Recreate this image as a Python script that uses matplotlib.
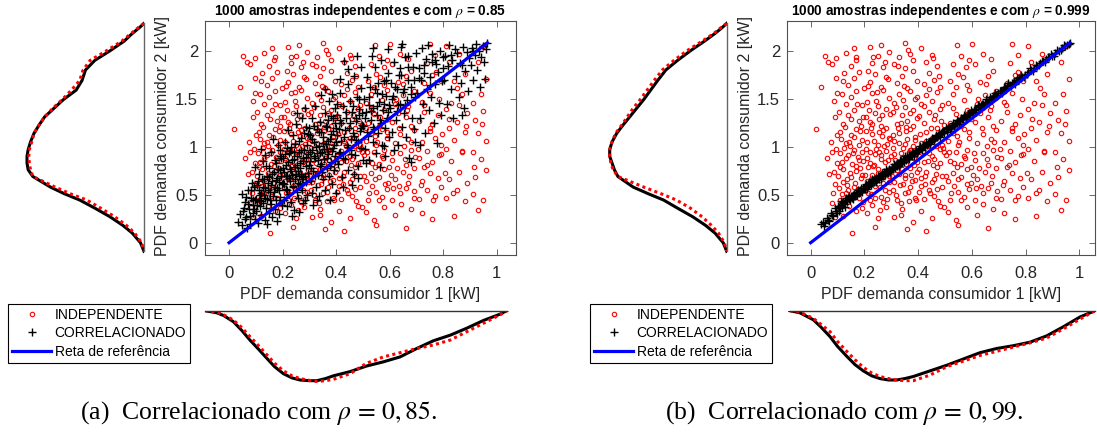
import numpy as np
import matplotlib.pyplot as plt

plt.rcParams['font.family'] = ['Liberation Sans', 'DejaVu Sans']
plt.rcParams['mathtext.fontset'] = 'stix'

W, H = 1097, 433

# --- amostras independentes (mesmas nos dois paineis) ---
indep_pts = [
    (0.02,1.18),(0.04,1.62),(0.053,1.95),(0.07,0.72),(0.08,0.95),(0.09,1.31),(0.085,0.52),(0.095,1.72),
    (0.06,0.88),(0.075,1.05),(0.092,0.61),(0.088,1.48),(0.097,0.83),(0.066,1.88),(0.099,1.12),(0.081,0.41),
    (0.094,0.98),(0.078,1.86),(0.091,0.27),(0.098,1.56),(0.087,0.74),(0.096,1.92),
    (0.152,0.10),(0.12,0.28),(0.17,0.33),(0.19,0.36),
    (0.11,0.45),(0.13,0.52),(0.16,0.58),(0.18,0.47),(0.14,0.55),(0.195,0.42),(0.105,0.57),
    (0.12,0.63),(0.15,0.68),(0.17,0.75),(0.19,0.71),(0.11,0.79),(0.135,0.66),(0.165,0.62),(0.185,0.78),
    (0.115,0.84),(0.14,0.91),(0.16,0.97),(0.18,0.86),(0.125,0.99),(0.155,0.82),(0.19,0.94),(0.175,0.89),
    (0.13,1.04),(0.15,1.12),(0.17,1.18),(0.19,1.07),(0.11,1.15),(0.145,1.01),(0.185,1.16),
    (0.12,1.24),(0.14,1.33),(0.16,1.38),(0.18,1.27),(0.105,1.36),(0.195,1.31),
    (0.13,1.45),(0.15,1.52),(0.17,1.58),(0.19,1.43),(0.115,1.55),
    (0.14,1.64),(0.16,1.72),(0.18,1.78),(0.12,1.69),
    (0.15,1.84),(0.17,1.93),(0.13,1.98),(0.16,2.03),
    (0.24,0.16),(0.21,0.31),(0.25,0.26),(0.28,0.37),(0.23,0.39),
    (0.22,0.44),(0.26,0.48),(0.29,0.53),(0.205,0.57),(0.24,0.59),(0.27,0.42),(0.225,0.51),(0.285,0.46),
    (0.21,0.64),(0.23,0.71),(0.25,0.77),(0.27,0.62),(0.29,0.69),(0.215,0.79),(0.245,0.66),(0.265,0.73),(0.295,0.76),
    (0.22,0.83),(0.24,0.92),(0.26,0.87),(0.28,0.96),(0.205,0.98),(0.235,0.81),(0.255,0.94),(0.275,0.84),(0.298,0.90),
    (0.21,1.05),(0.23,1.13),(0.25,1.02),(0.27,1.17),(0.29,1.09),(0.225,1.19),(0.265,1.11),(0.285,1.03),
    (0.22,1.26),(0.24,1.35),(0.26,1.22),(0.28,1.39),(0.205,1.31),(0.255,1.29),(0.295,1.34),
    (0.21,1.47),(0.23,1.56),(0.25,1.42),(0.27,1.59),(0.29,1.51),(0.245,1.48),
    (0.22,1.67),(0.24,1.76),(0.26,1.62),(0.28,1.73),(0.215,1.79),
    (0.23,1.87),(0.25,1.95),(0.27,1.83),(0.29,1.99),(0.26,2.06),(0.22,2.04),
    (0.36,0.14),(0.31,0.27),(0.34,0.35),(0.38,0.22),
    (0.32,0.45),(0.35,0.52),(0.37,0.58),(0.39,0.47),(0.305,0.55),(0.335,0.41),(0.365,0.43),
    (0.31,0.63),(0.33,0.72),(0.35,0.67),(0.37,0.78),(0.39,0.65),(0.32,0.76),(0.345,0.61),(0.375,0.71),(0.395,0.74),
    (0.315,0.86),(0.335,0.93),(0.355,0.82),(0.375,0.97),(0.385,0.88),(0.305,0.99),(0.345,0.89),(0.365,0.95),(0.395,0.84),
    (0.31,1.06),(0.33,1.14),(0.35,1.03),(0.37,1.18),(0.39,1.10),(0.325,1.19),(0.36,1.08),(0.38,1.01),
    (0.32,1.24),(0.34,1.33),(0.36,1.27),(0.38,1.38),(0.305,1.36),(0.355,1.21),(0.395,1.30),
    (0.31,1.46),(0.33,1.55),(0.35,1.41),(0.37,1.58),(0.39,1.50),(0.345,1.49),
    (0.32,1.66),(0.34,1.74),(0.36,1.61),(0.38,1.79),(0.395,1.69),
    (0.31,1.86),(0.33,1.94),(0.35,1.82),(0.37,1.97),(0.35,2.08),
    (0.43,0.12),(0.41,0.33),(0.45,0.26),(0.48,0.38),
    (0.42,0.46),(0.44,0.55),(0.46,0.49),(0.49,0.58),(0.405,0.53),(0.475,0.43),
    (0.41,0.67),(0.43,0.74),(0.45,0.63),(0.47,0.79),(0.49,0.69),(0.425,0.61),(0.465,0.72),
    (0.42,0.84),(0.44,0.93),(0.46,0.87),(0.48,0.98),(0.405,0.90),(0.455,0.81),(0.495,0.95),
    (0.41,1.04),(0.43,1.15),(0.45,1.09),(0.47,1.19),(0.49,1.02),(0.435,1.01),(0.475,1.12),
    (0.42,1.25),(0.44,1.36),(0.46,1.29),(0.48,1.39),(0.405,1.32),(0.495,1.23),
    (0.41,1.45),(0.43,1.54),(0.45,1.48),(0.47,1.57),(0.49,1.43),
    (0.42,1.65),(0.44,1.77),(0.46,1.70),(0.48,1.62),
    (0.43,1.88),(0.45,1.96),(0.47,1.84),(0.41,2.03),
    (0.55,0.18),(0.51,0.32),(0.54,0.24),(0.58,0.37),
    (0.52,0.45),(0.55,0.53),(0.57,0.48),(0.59,0.56),(0.535,0.59),
    (0.51,0.64),(0.53,0.73),(0.56,0.68),(0.58,0.77),(0.595,0.62),(0.545,0.79),
    (0.52,0.85),(0.54,0.94),(0.56,0.82),(0.58,0.97),(0.505,0.91),(0.575,0.88),
    (0.51,1.06),(0.53,1.14),(0.55,1.02),(0.57,1.18),(0.59,1.09),(0.545,1.11),
    (0.52,1.25),(0.54,1.34),(0.56,1.22),(0.58,1.38),(0.595,1.29),
    (0.51,1.46),(0.53,1.55),(0.57,1.49),(0.59,1.59),
    (0.52,1.68),(0.55,1.76),(0.58,1.64),(0.565,1.73),
    (0.53,1.86),(0.56,1.95),(0.59,1.90),(0.545,2.06),
    (0.66,0.15),(0.62,0.29),(0.68,0.35),
    (0.61,0.44),(0.64,0.52),(0.66,0.57),(0.69,0.47),(0.635,0.59),
    (0.62,0.66),(0.65,0.74),(0.67,0.62),(0.69,0.78),(0.605,0.71),
    (0.61,0.86),(0.64,0.93),(0.66,0.81),(0.68,0.97),(0.695,0.89),
    (0.62,1.04),(0.64,1.13),(0.67,1.08),(0.69,1.17),(0.655,1.01),
    (0.61,1.26),(0.63,1.35),(0.66,1.31),(0.68,1.22),
    (0.62,1.45),(0.65,1.54),(0.67,1.42),(0.69,1.58),
    (0.63,1.67),(0.66,1.74),(0.68,1.79),
    (0.61,1.86),(0.64,1.97),(0.67,1.91),(0.60,2.07),
    (0.72,0.31),(0.76,0.25),
    (0.71,0.46),(0.74,0.55),(0.77,0.49),(0.79,0.58),
    (0.72,0.64),(0.75,0.73),(0.78,0.67),(0.73,0.79),
    (0.71,0.88),(0.74,0.96),(0.76,0.84),(0.79,0.92),
    (0.72,1.05),(0.75,1.16),(0.77,1.09),(0.79,1.02),
    (0.71,1.27),(0.73,1.36),(0.76,1.24),(0.78,1.33),
    (0.72,1.47),(0.75,1.56),(0.785,1.50),
    (0.73,1.66),(0.76,1.75),(0.79,1.69),
    (0.74,1.87),(0.77,1.96),(0.75,2.07),
    (0.84,0.28),(0.81,0.47),(0.85,0.55),(0.88,0.43),
    (0.82,0.66),(0.86,0.74),(0.89,0.62),
    (0.83,0.85),(0.87,0.94),(0.81,0.98),
    (0.84,1.07),(0.88,1.15),(0.82,1.19),
    (0.85,1.26),(0.89,1.35),(0.81,1.39),
    (0.83,1.46),(0.87,1.55),(0.86,1.44),
    (0.84,1.68),(0.88,1.76),(0.82,1.88),(0.86,1.97),(0.81,2.05),
    (0.93,0.34),(0.91,0.51),(0.95,0.45),(0.92,0.68),(0.96,0.76),
    (0.94,0.87),(0.91,0.95),(0.96,1.06),(0.93,1.14),(0.92,1.28),(0.95,1.37),
    (0.94,1.55),(0.91,1.46),(0.96,1.71),(0.93,1.88),(0.95,2.05),
    # mais pontos nas regioes densas
    (0.103,0.69),(0.108,0.93),(0.114,1.08),(0.118,0.51),(0.122,0.77),(0.127,1.21),(0.131,0.88),(0.137,0.60),
    (0.142,1.05),(0.146,0.73),(0.151,1.29),(0.156,0.93),(0.158,0.49),(0.163,1.10),(0.168,0.80),(0.173,1.45),
    (0.176,0.56),(0.181,1.02),(0.186,0.67),(0.189,1.22),(0.193,0.85),(0.197,1.61),(0.124,1.77),(0.167,1.90),
    (0.144,0.38),
    (0.202,0.71),(0.206,1.16),(0.209,0.88),(0.213,0.52),(0.217,1.38),(0.221,0.95),(0.226,0.66),(0.229,1.24),
    (0.233,0.80),(0.237,1.06),(0.241,0.47),(0.244,0.98),(0.248,1.57),(0.252,0.73),(0.256,1.15),(0.259,0.58),
    (0.263,0.91),(0.267,1.33),(0.271,0.69),(0.274,1.01),(0.278,0.55),(0.282,1.20),(0.286,0.86),(0.289,1.71),
    (0.293,0.63),(0.297,1.08),(0.231,1.93),(0.258,0.34),(0.276,1.88),(0.212,1.63),
    (0.303,0.69),(0.307,1.12),(0.311,0.92),(0.316,0.50),(0.319,1.41),(0.323,0.83),(0.328,1.04),(0.331,0.60),
    (0.336,1.25),(0.34,0.77),(0.343,0.99),(0.348,1.63),(0.352,0.71),(0.356,1.16),(0.359,0.88),(0.364,0.53),
    (0.368,1.35),(0.371,0.97),(0.376,0.64),(0.379,1.22),(0.384,0.81),(0.388,1.07),(0.391,0.44),(0.396,1.52),
    (0.326,1.84),(0.361,2.01),(0.381,1.90),(0.338,0.29),
    (0.403,0.77),(0.408,1.13),(0.412,0.59),(0.417,0.96),(0.421,1.42),(0.426,0.70),(0.431,1.06),(0.436,0.85),
    (0.44,1.60),(0.444,0.52),(0.449,1.19),(0.453,0.90),(0.458,0.66),(0.462,1.33),(0.467,1.01),(0.471,0.56),
    (0.476,1.74),(0.481,0.83),(0.486,1.27),(0.491,0.99),(0.496,0.37),(0.457,1.92),
    (0.504,0.70),(0.51,1.20),(0.516,0.94),(0.523,0.52),(0.529,1.40),(0.535,0.83),(0.541,1.62),(0.547,0.66),
    (0.553,1.05),(0.559,0.45),(0.565,1.31),(0.571,0.90),(0.577,1.83),(0.583,0.61),(0.589,1.15),(0.597,0.79),
    (0.607,0.93),(0.614,0.57),(0.622,1.50),(0.628,0.78),(0.636,1.19),(0.643,0.40),(0.651,1.65),(0.658,0.87),
    (0.666,1.38),(0.673,0.69),(0.681,1.05),(0.692,0.54),
    (0.705,0.98),(0.716,0.60),(0.727,1.43),(0.738,0.81),(0.749,1.20),(0.761,0.44),(0.772,1.78),(0.783,0.91),
    (0.795,1.13),(0.806,0.73),(0.822,1.29),(0.838,0.52),(0.853,1.61),(0.869,0.96),(0.885,1.22),(0.915,0.79),
    (0.945,1.24),
]

# --- amostras correlacionadas, rho = 0.85 ---
corr85_pts = [
    (0.035,0.22),(0.047,0.51),(0.04,0.30),(0.05,0.18),(0.06,0.42),(0.065,0.27),(0.07,0.55),(0.075,0.35),
    (0.08,0.20),(0.082,0.47),(0.085,0.62),(0.088,0.31),(0.09,0.39),(0.092,0.58),(0.095,0.25),(0.097,0.79),
    (0.098,0.44),(0.055,0.36),(0.068,0.15),
    (0.102,0.33),(0.105,0.60),(0.108,0.21),(0.11,0.45),(0.113,0.72),(0.115,0.38),(0.118,0.52),(0.12,0.29),
    (0.123,0.66),(0.125,0.41),(0.128,0.85),(0.13,0.50),(0.133,0.24),(0.134,0.91),(0.136,0.57),(0.138,0.36),
    (0.14,0.70),(0.143,0.46),(0.145,0.62),(0.148,0.31),(0.15,0.78),(0.152,0.53),(0.155,0.40),(0.157,0.95),
    (0.16,0.64),(0.162,0.27),(0.165,0.49),(0.167,0.74),(0.17,0.58),(0.172,0.35),(0.175,0.83),(0.177,0.44),
    (0.18,0.67),(0.182,1.02),(0.185,0.55),(0.187,0.30),(0.19,0.76),(0.192,0.48),(0.194,0.88),(0.196,0.61),
    (0.198,0.39),(0.119,0.98),(0.141,0.19),(0.163,1.08),(0.179,0.23),(0.189,0.97),(0.111,0.55),
    (0.201,0.62),(0.203,0.88),(0.205,0.45),(0.207,0.74),(0.21,1.05),(0.212,0.56),(0.214,0.81),(0.216,0.38),
    (0.218,0.69),(0.22,1.17),(0.222,0.93),(0.224,0.51),(0.226,0.77),(0.228,0.64),(0.23,1.00),(0.232,0.42),
    (0.234,0.86),(0.236,0.71),(0.238,1.12),(0.24,0.58),(0.242,0.95),(0.244,0.34),(0.246,0.79),(0.248,0.66),
    (0.25,1.24),(0.252,0.53),(0.254,0.90),(0.256,0.75),(0.258,0.47),(0.26,1.06),(0.262,0.32),(0.264,0.83),
    (0.266,0.61),(0.268,0.97),(0.27,0.72),(0.272,1.30),(0.274,0.55),(0.276,0.88),(0.278,0.68),(0.28,1.14),
    (0.282,0.44),(0.284,1.40),(0.286,0.80),(0.288,0.63),(0.29,1.02),(0.292,0.50),(0.294,0.92),(0.296,0.73),
    (0.298,1.19),(0.215,0.99),(0.235,0.28),(0.255,1.35),(0.275,0.41),(0.287,1.21),(0.263,0.70),
    (0.301,0.85),(0.303,1.12),(0.305,0.64),(0.308,0.97),(0.31,1.30),(0.312,0.75),(0.315,0.39),(0.317,1.05),
    (0.32,0.88),(0.322,1.42),(0.325,0.58),(0.327,0.93),(0.33,1.18),(0.332,0.71),(0.335,1.01),(0.337,0.49),
    (0.34,1.26),(0.342,0.82),(0.345,1.54),(0.347,0.95),(0.35,0.66),(0.352,1.10),(0.355,0.87),(0.357,1.35),
    (0.36,0.55),(0.362,1.03),(0.365,0.78),(0.367,1.21),(0.37,0.92),(0.372,1.48),(0.375,0.69),(0.377,1.08),
    (0.38,0.84),(0.382,1.32),(0.385,0.61),(0.387,0.99),(0.39,1.16),(0.392,0.76),(0.395,1.40),(0.397,0.90),
    (0.398,0.52),(0.318,1.22),(0.338,0.80),(0.358,1.60),(0.378,0.45),(0.396,1.25),(0.309,0.52),(0.344,1.15),
    (0.364,0.98),(0.384,1.55),(0.329,0.44),(0.369,1.28),
    (0.401,1.05),(0.404,1.33),(0.407,0.82),(0.41,1.18),(0.413,1.56),(0.416,0.94),(0.419,1.25),(0.422,0.68),
    (0.425,1.42),(0.428,1.10),(0.431,1.89),(0.434,0.87),(0.437,1.30),(0.44,1.02),(0.443,1.65),(0.446,0.76),
    (0.449,1.20),(0.452,1.48),(0.455,0.97),(0.458,1.36),(0.461,0.60),(0.464,1.14),(0.467,1.74),(0.47,0.91),
    (0.473,1.27),(0.476,1.07),(0.479,1.52),(0.482,0.80),(0.483,0.67),(0.485,1.39),(0.488,1.16),(0.491,0.99),
    (0.494,1.61),(0.497,1.23),(0.499,0.86),(0.415,1.71),(0.427,0.58),(0.445,1.81),(0.457,1.08),(0.468,0.72),
    (0.478,1.95),(0.487,1.33),(0.493,1.83),(0.405,1.45),
    (0.502,1.22),(0.505,1.50),(0.509,0.98),(0.512,1.36),(0.515,1.73),(0.518,1.11),(0.521,1.44),(0.524,0.86),
    (0.527,1.62),(0.53,1.28),(0.533,1.95),(0.536,1.05),(0.539,1.40),(0.542,1.18),(0.545,1.83),(0.548,0.93),
    (0.551,1.33),(0.554,1.56),(0.557,1.14),(0.56,1.47),(0.563,0.79),(0.566,1.25),(0.569,1.90),(0.572,1.02),
    (0.575,1.38),(0.578,1.68),(0.581,1.20),(0.584,0.90),(0.587,1.53),(0.59,1.30),(0.593,2.02),(0.596,1.10),
    (0.599,1.44),(0.513,0.83),(0.537,2.03),(0.558,1.66),(0.579,1.01),(0.595,1.77),
    (0.602,1.40),(0.606,1.66),(0.61,1.15),(0.614,1.53),(0.618,1.88),(0.622,1.28),(0.626,1.60),(0.63,1.02),
    (0.634,1.75),(0.638,1.45),(0.642,2.04),(0.646,1.21),(0.65,1.57),(0.654,1.35),(0.658,1.93),(0.662,1.10),
    (0.666,1.49),(0.67,1.70),(0.674,0.88),(0.678,1.62),(0.682,1.30),(0.686,1.83),(0.69,1.18),(0.694,1.52),
    (0.698,1.98),(0.695,1.05),(0.615,0.97),(0.639,1.82),(0.659,1.44),(0.68,0.84),(0.645,2.07),(0.628,1.37),
    (0.668,1.95),
    (0.703,1.56),(0.708,1.82),(0.712,1.30),(0.716,1.70),(0.72,2.03),(0.724,1.45),(0.728,1.77),(0.732,1.14),
    (0.736,1.91),(0.74,1.60),(0.744,2.06),(0.748,1.38),(0.752,1.73),(0.756,1.52),(0.76,1.97),(0.764,1.25),
    (0.768,1.65),(0.772,1.86),(0.776,1.04),(0.78,1.78),(0.784,1.46),(0.788,2.00),(0.792,1.33),(0.796,1.69),
    (0.799,1.93),(0.715,1.02),(0.758,1.88),
    (0.803,1.70),(0.808,1.95),(0.813,1.45),(0.818,1.84),(0.823,2.06),(0.828,1.60),(0.833,1.90),(0.838,1.30),
    (0.843,2.02),(0.848,1.74),(0.853,1.98),(0.858,1.52),(0.863,1.87),(0.868,1.66),(0.87,1.33),(0.873,2.04),
    (0.878,1.40),(0.883,1.79),(0.888,1.99),(0.893,1.58),(0.898,1.92),
    (0.903,1.85),(0.908,2.03),(0.913,1.70),(0.918,1.96),(0.923,2.07),(0.928,1.80),(0.933,2.00),(0.938,1.62),
    (0.943,1.93),(0.948,2.05),(0.953,1.88),(0.956,1.71),(0.96,2.02),(0.965,2.08),
    # nucleo mais denso perto da diagonal
    (0.052,0.33),(0.058,0.25),(0.063,0.48),(0.072,0.40),(0.078,0.28),(0.083,0.55),(0.089,0.45),(0.094,0.35),
    (0.101,0.46),(0.106,0.39),(0.109,0.64),(0.114,0.50),(0.121,0.43),(0.126,0.58),(0.131,0.66),(0.135,0.47),
    (0.139,0.80),(0.144,0.55),(0.149,0.68),(0.153,0.44),(0.158,0.60),(0.161,0.72),(0.166,0.53),(0.171,0.86),
    (0.174,0.65),(0.178,0.57),(0.183,0.77),(0.186,0.63),(0.191,0.90),(0.195,0.70),
    (0.202,0.78),(0.206,0.61),(0.209,0.92),(0.213,0.70),(0.217,0.55),(0.221,0.84),(0.225,0.67),(0.229,0.96),
    (0.233,0.75),(0.237,0.59),(0.241,0.87),(0.245,1.03),(0.249,0.72),(0.253,0.81),(0.257,0.62),(0.261,0.94),
    (0.265,0.78),(0.269,1.09),(0.273,0.66),(0.277,0.85),(0.281,0.97),(0.285,0.70),(0.289,0.89),(0.293,1.13),
    (0.297,0.81),
    (0.302,0.95),(0.307,0.78),(0.311,1.08),(0.316,0.90),(0.321,0.69),(0.326,1.00),(0.331,0.86),(0.336,1.15),
    (0.341,0.93),(0.346,0.74),(0.351,1.04),(0.356,0.98),(0.361,1.22),(0.366,0.88),(0.371,1.06),(0.376,0.80),
    (0.381,1.13),(0.386,0.96),(0.389,1.30),(0.393,1.02),(0.396,0.85),(0.399,1.19),
    (0.403,1.12),(0.409,0.93),(0.414,1.28),(0.42,1.06),(0.426,0.88),(0.432,1.17),(0.438,1.36),(0.444,1.00),
    (0.45,1.25),(0.456,0.92),(0.462,1.42),(0.468,1.11),(0.474,1.30),(0.48,1.05),(0.486,1.50),(0.492,1.20),
    (0.498,1.35),
    (0.506,1.30),(0.514,1.15),(0.522,1.52),(0.53,1.37),(0.538,1.21),(0.546,1.60),(0.554,1.42),(0.562,1.28),
    (0.57,1.55),(0.578,1.45),(0.586,1.70),(0.594,1.36),
    (0.607,1.50),(0.619,1.62),(0.631,1.44),(0.643,1.75),(0.655,1.60),(0.667,1.83),(0.679,1.55),(0.691,1.70),
    (0.71,1.72),(0.73,1.85),(0.75,1.64),(0.77,1.90),(0.80,1.82),(0.83,1.96),(0.87,1.85),(0.91,2.00),
]

# --- amostras correlacionadas, rho = 0.999 ---
corr999_pts = [
    (0.04,0.19),(0.05,0.17),(0.06,0.26),(0.07,0.23),(0.075,0.31),(0.085,0.28),(0.09,0.36),(0.097,0.31),
    (0.102,0.38),(0.107,0.33),(0.112,0.43),(0.117,0.37),(0.122,0.42),(0.127,0.37),(0.132,0.47),
    (0.137,0.44),(0.142,0.49),(0.147,0.45),(0.152,0.49),(0.157,0.46),(0.162,0.51),(0.167,0.51),(0.172,0.50),
    (0.177,0.55),(0.182,0.53),(0.187,0.57),(0.192,0.53),(0.197,0.57),
    (0.202,0.56),(0.206,0.61),(0.21,0.56),(0.214,0.61),(0.218,0.60),(0.222,0.635),(0.226,0.60),(0.23,0.66),
    (0.234,0.628),(0.238,0.661),(0.242,0.629),(0.246,0.667),(0.25,0.695),(0.254,0.663),(0.258,0.696),
    (0.262,0.664),(0.266,0.722),(0.27,0.705),(0.274,0.733),(0.278,0.705),(0.282,0.763),(0.286,0.731),
    (0.29,0.754),(0.294,0.732),
    (0.302,0.793),(0.306,0.766),(0.311,0.821),(0.315,0.774),(0.32,0.814),(0.324,0.832),(0.329,0.796),
    (0.333,0.859),(0.338,0.834),(0.342,0.862),(0.347,0.842),(0.351,0.90),(0.356,0.875),(0.36,0.908),
    (0.365,0.873),(0.369,0.916),(0.374,0.901),(0.378,0.948),(0.383,0.903),(0.387,0.946),(0.392,0.966),
    (0.397,0.941),
    (0.402,0.961),(0.407,1.006),(0.413,0.968),(0.418,1.018),(0.423,1.008),(0.428,1.052),(0.434,1.014),
    (0.439,1.054),(0.444,1.024),(0.45,1.086),(0.455,1.076),(0.46,1.071),(0.465,1.121),(0.471,1.098),
    (0.476,1.147),(0.481,1.102),(0.487,1.144),(0.492,1.164),(0.497,1.139),
    (0.503,1.191),(0.509,1.158),(0.515,1.205),(0.521,1.197),(0.528,1.25),(0.534,1.212),(0.54,1.249),
    (0.546,1.281),(0.553,1.24),(0.559,1.297),(0.565,1.289),(0.571,1.326),(0.578,1.294),(0.584,1.341),
    (0.59,1.328),(0.596,1.385),
    (0.603,1.349),(0.61,1.398),(0.617,1.367),(0.624,1.435),(0.631,1.419),(0.638,1.448),(0.645,1.427),
    (0.652,1.496),(0.659,1.47),(0.666,1.514),(0.673,1.493),(0.68,1.526),(0.687,1.56),(0.694,1.529),
    (0.704,1.584),(0.712,1.56),(0.72,1.626),(0.728,1.606),(0.736,1.662),(0.744,1.628),(0.752,1.669),
    (0.76,1.65),(0.768,1.716),(0.776,1.706),(0.784,1.752),(0.792,1.728),
    (0.805,1.754),(0.816,1.816),(0.827,1.787),(0.838,1.849),(0.849,1.851),(0.86,1.898),(0.871,1.88),
    (0.882,1.931),(0.893,1.968),(0.905,1.947),(0.918,2.013),(0.93,2.006),(0.942,2.055),(0.953,2.057),
    (0.965,2.083),
    (0.045,0.22),(0.055,0.21),(0.065,0.24),(0.08,0.29),(0.095,0.33),
    (0.104,0.37),(0.109,0.36),(0.114,0.39),(0.119,0.41),(0.124,0.40),(0.129,0.44),(0.134,0.43),(0.139,0.47),
    (0.144,0.46),(0.149,0.49),(0.154,0.47),(0.159,0.50),(0.164,0.49),(0.169,0.52),(0.174,0.53),(0.179,0.52),
    (0.184,0.55),(0.189,0.54),(0.194,0.57),(0.199,0.56),
    (0.204,0.59),(0.208,0.58),(0.212,0.61),(0.216,0.60),(0.22,0.62),(0.224,0.63),(0.228,0.62),(0.232,0.65),
    (0.236,0.64),(0.24,0.66),(0.244,0.67),(0.248,0.66),(0.252,0.69),(0.256,0.68),(0.26,0.70),(0.264,0.71),
    (0.268,0.70),(0.272,0.73),(0.276,0.72),(0.28,0.74),(0.284,0.75),(0.288,0.74),(0.292,0.77),(0.296,0.76),
    (0.304,0.78),(0.309,0.79),(0.313,0.80),(0.318,0.81),(0.322,0.80),(0.327,0.83),(0.331,0.82),(0.336,0.85),
    (0.34,0.84),(0.345,0.86),(0.349,0.87),(0.354,0.86),(0.358,0.89),(0.363,0.88),(0.367,0.90),(0.372,0.91),
    (0.376,0.90),(0.381,0.93),(0.385,0.92),(0.39,0.95),(0.394,0.94),(0.399,0.96),
    (0.405,0.98),(0.41,0.99),(0.416,1.00),(0.421,1.01),(0.426,1.00),(0.431,1.03),(0.437,1.04),(0.442,1.05),
    (0.447,1.06),(0.452,1.07),(0.458,1.08),(0.463,1.09),(0.468,1.10),(0.474,1.12),(0.479,1.12),(0.484,1.14),
    (0.49,1.15),(0.495,1.16),
    (0.506,1.18),(0.512,1.19),(0.518,1.20),(0.525,1.22),(0.531,1.23),(0.537,1.24),(0.543,1.25),(0.55,1.27),
    (0.556,1.28),(0.562,1.29),(0.568,1.30),(0.575,1.32),(0.581,1.33),(0.587,1.34),(0.593,1.35),(0.599,1.36),
    (0.607,1.38),(0.614,1.39),(0.621,1.41),(0.628,1.42),(0.635,1.43),(0.642,1.45),(0.649,1.46),(0.656,1.47),
    (0.663,1.49),(0.67,1.50),(0.677,1.52),(0.684,1.53),(0.691,1.54),(0.698,1.56),
    (0.708,1.58),(0.716,1.59),(0.724,1.61),(0.732,1.63),(0.74,1.64),(0.748,1.66),(0.756,1.67),(0.764,1.69),
    (0.772,1.70),(0.78,1.72),(0.788,1.73),(0.796,1.75),
    (0.81,1.78),(0.821,1.80),(0.832,1.82),(0.843,1.84),(0.854,1.87),(0.865,1.89),(0.876,1.91),(0.887,1.93),
    (0.898,1.95),(0.911,1.98),(0.924,2.00),(0.936,2.03),(0.948,2.05),(0.96,2.07),
]

# reta de referencia
reta_x = [0.0, 0.965]
reta_y = [0.0, 2.083]

# PDFs (profundidade relativa ao pico)
pdf_y_grid = [2.285, 2.24, 2.18, 2.10, 2.0, 1.9, 1.8, 1.69, 1.59, 1.49, 1.40, 1.31, 1.22, 1.14, 1.05,
              0.97, 0.90, 0.83, 0.76, 0.69, 0.58, 0.51, 0.445, 0.36, 0.27, 0.18, 0.10, 0.0, -0.09]
pdf_y_cor_a = [0, 0.04, 0.10, 0.17, 0.29, 0.42, 0.50, 0.53, 0.58, 0.69, 0.77, 0.85, 0.90, 0.94, 0.97,
               0.99, 1.0, 1.0, 0.99, 0.95, 0.80, 0.68, 0.55, 0.42, 0.29, 0.18, 0.10, 0.03, 0]
pdf_y_ind_a = [0, 0.05, 0.11, 0.19, 0.32, 0.46, 0.52, 0.55, 0.62, 0.70, 0.78, 0.85, 0.90, 0.94, 0.96,
               0.98, 0.985, 0.98, 0.97, 0.95, 0.76, 0.63, 0.49, 0.37, 0.25, 0.15, 0.08, 0.02, 0]
pdf_y_cor_b = [0, 0.04, 0.10, 0.19, 0.31, 0.42, 0.52, 0.59, 0.65, 0.71, 0.77, 0.83, 0.89, 0.94, 0.98,
               1.0, 1.0, 0.98, 0.96, 0.93, 0.80, 0.67, 0.54, 0.42, 0.29, 0.18, 0.10, 0.03, 0]
pdf_y_ind_b = [0, 0.05, 0.11, 0.21, 0.34, 0.45, 0.55, 0.62, 0.68, 0.74, 0.80, 0.85, 0.90, 0.95, 0.98,
               1.0, 1.0, 0.99, 0.97, 0.93, 0.71, 0.56, 0.43, 0.31, 0.21, 0.13, 0.07, 0.02, 0]

pdf_x_grid_a = [-0.09, -0.046, -0.02, 0.016, 0.047, 0.078, 0.11, 0.141, 0.17, 0.203, 0.235, 0.265, 0.30,
                0.328, 0.36, 0.39, 0.452, 0.514, 0.577, 0.639, 0.701, 0.763, 0.826, 0.888, 0.95, 1.012, 1.037]
pdf_x_cor_a = [0, 0.03, 0.07, 0.157, 0.28, 0.42, 0.55, 0.68, 0.80, 0.90, 0.96, 0.99, 1.0, 1.0, 0.97,
               0.93, 0.87, 0.79, 0.73, 0.66, 0.54, 0.43, 0.35, 0.25, 0.14, 0.05, 0]
pdf_x_ind_a = [0, 0.02, 0.06, 0.133, 0.24, 0.37, 0.50, 0.63, 0.75, 0.86, 0.93, 0.97, 0.995, 1.01, 1.0,
               0.98, 0.90, 0.75, 0.66, 0.60, 0.54, 0.49, 0.42, 0.30, 0.18, 0.06, 0]

pdf_x_grid_b = [-0.077, -0.04, 0.01, 0.04, 0.072, 0.10, 0.134, 0.165, 0.196, 0.227, 0.258, 0.29, 0.32,
                0.35, 0.382, 0.444, 0.506, 0.568, 0.63, 0.692, 0.754, 0.816, 0.878, 0.94, 1.002, 1.058]
pdf_x_cor_b = [0, 0.03, 0.13, 0.24, 0.37, 0.51, 0.65, 0.77, 0.86, 0.93, 0.97, 0.99, 0.99, 0.97, 0.94,
               0.86, 0.78, 0.69, 0.60, 0.54, 0.50, 0.45, 0.36, 0.23, 0.09, 0]
pdf_x_ind_b = [0, 0.02, 0.11, 0.20, 0.30, 0.44, 0.58, 0.70, 0.81, 0.89, 0.94, 0.97, 0.99, 1.0, 1.0,
               0.92, 0.80, 0.72, 0.64, 0.58, 0.52, 0.46, 0.39, 0.26, 0.12, 0]

x_ticks = [0, 0.2, 0.4, 0.6, 0.8, 1]
x_tick_labels = ['0', '0.2', '0.4', '0.6', '0.8', '1']
y_ticks = [0, 0.5, 1, 1.5, 2]
y_tick_labels = ['0', '0.5', '1', '1.5', '2']


def rect_px(x0, y0, x1, y1):
    return [x0 / W, 1 - y1 / H, (x1 - x0) / W, (y1 - y0) / H]


fig = plt.figure(figsize=(W / 100, H / 100), dpi=100)
AX_COR = '#505050'


def desenha_painel(left, right, xlim, side_left, side_line, corr_pts, pdf_y_cor, pdf_y_ind,
                   pdf_x_grid, pdf_x_cor, pdf_x_ind, titulo, legenda, leg_left, cap_x):
    top, bottom = 21, 255
    ylim = (-0.128, 2.31)
    ax = fig.add_axes(rect_px(left, top, right, bottom))
    ix, iy = zip(*indep_pts)
    cx, cy = zip(*corr_pts)
    h1, = ax.plot(ix, iy, 'o', ls='none', mfc='none', mec='red', ms=3.2, mew=0.8)
    h2, = ax.plot(cx, cy, '+', ls='none', color='k', ms=6, mew=1.0)
    h3, = ax.plot(reta_x, reta_y, color='blue', lw=2.3)
    ax.set_xlim(xlim)
    ax.set_ylim(ylim)
    ax.set_xticks(x_ticks)
    ax.set_xticklabels(x_tick_labels)
    ax.set_yticks(y_ticks)
    ax.set_yticklabels(y_tick_labels)
    ax.tick_params(direction='in', top=True, right=True, length=4, width=0.6,
                   color=AX_COR, labelcolor='#262626', labelsize=12)
    ax.tick_params(axis='x', pad=8)
    ax.tick_params(axis='y', pad=5)
    for s in ax.spines.values():
        s.set_color(AX_COR)
        s.set_linewidth(0.8)
    cx_mid = (left + right) / 2
    fig.text(cx_mid / W, 1 - 11 / H, titulo, ha='center', va='center',
             fontsize=9.8, fontweight='bold')
    fig.text(cx_mid / W, 1 - 295 / H, 'PDF demanda consumidor 1 [kW]', ha='center',
             va='center', fontsize=11.5, color='#262626')
    fig.text((side_line + 19) / W, 1 - 136 / H, 'PDF demanda consumidor 2 [kW]', ha='center',
             va='center', rotation=90, fontsize=11.5, color='#262626')

    # PDF lateral (consumidor 2)
    axs = fig.add_axes(rect_px(side_left, top, side_line, bottom))
    axs.plot(pdf_y_cor, pdf_y_grid, color='k', lw=2.2)
    axs.plot(pdf_y_ind, pdf_y_grid, color='red', lw=2.2, ls=(0, (1, 1.1)))
    axs.plot([0, 0], [pdf_y_grid[0], pdf_y_grid[-1]], color='#666666', lw=1.0, clip_on=False)
    axs.set_xlim((side_line - side_left) / 117, 0)
    axs.set_ylim(ylim)
    axs.axis('off')

    # PDF inferior (consumidor 1)
    axb = fig.add_axes(rect_px(left, 310.7, right, 395))
    axb.plot(pdf_x_grid, pdf_x_cor, color='k', lw=2.2)
    axb.plot(pdf_x_grid, pdf_x_ind, color='red', lw=2.2, ls=(0, (1, 1.1)))
    axb.plot([pdf_x_grid[0], pdf_x_grid[-1]], [0, 0], color='#333333', lw=1.0, clip_on=False)
    axb.set_xlim(xlim)
    axb.set_ylim((395 - 310.7) / 70, 0)
    axb.axis('off')

    leg = fig.legend([h1, h2, h3], ['INDEPENDENTE', 'CORRELACIONADO', 'Reta de referência'],
                     loc='upper left', bbox_to_anchor=(leg_left / W, 1 - 304 / H),
                     borderaxespad=0, fontsize=10, handlelength=2.8, handletextpad=0.25,
                     borderpad=0.3, labelspacing=0.3, numpoints=1, fancybox=False,
                     framealpha=1, edgecolor='k')
    leg.get_frame().set_linewidth(0.8)

    fig.text(cap_x / W, 1 - 413 / H, legenda, ha='center', va='center',
             fontsize=18.5, family='Liberation Serif')


desenha_painel(205, 516, (-0.09, 1.072), 15, 144, corr85_pts, pdf_y_cor_a, pdf_y_ind_a,
               pdf_x_grid_a, pdf_x_cor_a, pdf_x_ind_a,
               r'1000 amostras independentes e com $\rho$ = 0.85',
               r'(a)  Correlacionado com $\rho\,=\,0,85$.', 8, 258.5)
desenha_painel(787, 1095, (-0.088, 1.058), 598, 726.7, corr999_pts, pdf_y_cor_b, pdf_y_ind_b,
               pdf_x_grid_b, pdf_x_cor_b, pdf_x_ind_b,
               r'1000 amostras independentes e com $\rho$ = 0.999',
               r'(b)  Correlacionado com $\rho\,=\,0,99$.', 590, 844)

fig.savefig('out.png', dpi=100)
